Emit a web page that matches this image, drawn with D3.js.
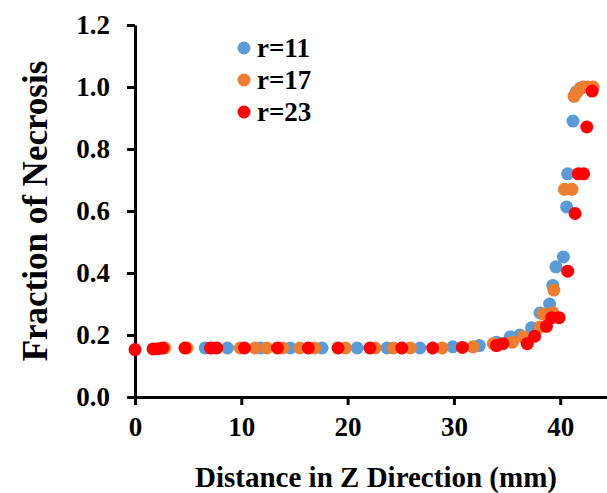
<!DOCTYPE html>
<html>
<head>
<meta charset="utf-8">
<script src="https://cdn.jsdelivr.net/npm/d3@7"></script>
<style>
  html, body { margin: 0; padding: 0; background: #fff; }
  svg text { font-family: "Liberation Serif", "Times New Roman", serif; font-weight: bold; fill: #000; }
</style>
</head>
<body>
<svg id="chart" width="607" height="493"></svg>
<script>
// ---- data ----
const seriesNames = ["r=11", "r=17", "r=23"];
const seriesColors = ["#5B9BD5", "#ED7D31", "#FF0000"];

const r11X = [6.6, 8.7, 11.8, 14.6, 17.6, 20.9, 23.7, 26.8, 29.9, 32.4, 34.0, 35.3, 36.2, 37.3, 38.1, 39.0, 39.3, 39.6, 40.3, 40.6, 40.7, 41.2, 41.5, 41.9];
const r11Y = [0.158, 0.158, 0.158, 0.158, 0.158, 0.158, 0.158, 0.158, 0.162, 0.166, 0.177, 0.194, 0.200, 0.223, 0.271, 0.300, 0.360, 0.420, 0.452, 0.613, 0.720, 0.890, 0.984, 0.997];

const r17X = [2.8, 4.9, 7.2, 9.9, 11.3, 12.4, 13.9, 15.5, 16.9, 19.8, 22.6, 24.3, 25.9, 28.9, 31.8, 33.7, 35.5, 36.5, 38.1, 38.4, 39.3, 39.4, 40.4, 41.1, 41.3, 41.6, 41.9, 42.2, 42.6, 43.1];
const r17Y = [0.158, 0.158, 0.158, 0.158, 0.158, 0.158, 0.158, 0.158, 0.158, 0.158, 0.158, 0.158, 0.158, 0.158, 0.162, 0.172, 0.177, 0.194, 0.226, 0.268, 0.272, 0.345, 0.670, 0.670, 0.970, 0.984, 0.995, 1.0, 1.0, 1.0];

const r23X = [0.0, 1.7, 2.2, 2.6, 4.7, 7.1, 7.7, 10.3, 13.4, 16.3, 19.1, 22.1, 25.1, 28.0, 30.8, 34.0, 34.6, 36.9, 37.6, 38.7, 39.2, 39.9, 40.7, 41.4, 41.7, 42.2, 42.5, 43.0];
const r23Y = [0.153, 0.155, 0.156, 0.158, 0.158, 0.158, 0.158, 0.158, 0.158, 0.158, 0.158, 0.158, 0.158, 0.158, 0.160, 0.166, 0.172, 0.172, 0.196, 0.228, 0.256, 0.256, 0.406, 0.592, 0.720, 0.720, 0.871, 0.987];

const xTicks = [0, 10, 20, 30, 40];
const yTicks = [0.0, 0.2, 0.4, 0.6, 0.8, 1.0, 1.2];
const xTitle = "Distance in Z Direction (mm)";
const yTitle = "Fraction of Necrosis";

// ---- layout ----
const svg = d3.select("#chart");
const x = d3.scaleLinear().domain([0, 44.4]).range([135, 607]);
const y = d3.scaleLinear().domain([0, 1.2]).range([397, 25]);

const series = [
  {name: seriesNames[0], color: seriesColors[0], pts: r11X.map((v, i) => [v, r11Y[i]])},
  {name: seriesNames[1], color: seriesColors[1], pts: r17X.map((v, i) => [v, r17Y[i]])},
  {name: seriesNames[2], color: seriesColors[2], pts: r23X.map((v, i) => [v, r23Y[i]])}
];

// axes
const xAxis = svg.append("g").attr("transform", "translate(0,397)")
  .call(d3.axisBottom(x).tickValues(xTicks).tickFormat(d3.format("d")).tickSizeInner(8).tickSizeOuter(0).tickPadding(12));
const yAxis = svg.append("g").attr("transform", "translate(135,0)")
  .call(d3.axisLeft(y).tickValues(yTicks).tickFormat(d3.format(".1f")).tickSizeInner(8).tickSizeOuter(0).tickPadding(17));
[xAxis, yAxis].forEach(g => {
  g.select(".domain").attr("stroke", "#000").attr("stroke-width", 3);
  g.selectAll(".tick line").attr("stroke", "#000").attr("stroke-width", 3);
  g.selectAll(".tick text").style("font-size", "27px").style("font-family", "'Liberation Serif', serif").style("font-weight", "bold").attr("fill", "#000");
});

// points
series.forEach(s => {
  svg.append("g").selectAll("circle").data(s.pts).join("circle")
    .attr("cx", d => x(d[0])).attr("cy", d => y(d[1])).attr("r", 6.5)
    .attr("fill", s.color);
});

// titles
svg.append("text").attr("x", 376).attr("y", 487).attr("text-anchor", "middle")
  .style("font-size", "29px").text(xTitle);
svg.append("text").attr("transform", "translate(47,211) rotate(-90)").attr("text-anchor", "middle")
  .style("font-size", "35px").text(yTitle);

// legend
const leg = svg.append("g");
series.forEach((s, i) => {
  const cy = 48 + i * 32;
  leg.append("circle").attr("cx", 244).attr("cy", cy).attr("r", 6.5).attr("fill", s.color);
  leg.append("text").attr("x", 257).attr("y", cy + 9).style("font-size", "27px").text(s.name);
});
</script>
</body>
</html>
